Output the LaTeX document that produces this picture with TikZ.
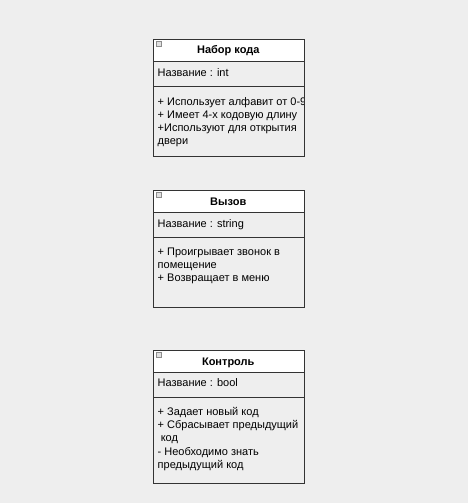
\documentclass[tikz,border=0pt]{standalone}
\usepackage{fontspec}
\setmainfont{Liberation Sans}
\definecolor{bgc}{HTML}{EEEEEE}
\definecolor{edgec}{HTML}{333333}
\begin{document}
\begin{tikzpicture}[x=1pt,y=-1pt,
  txt/.style={anchor=base west,inner sep=0pt,font=\fontsize{11}{13}\selectfont,text=black},
  hdrtxt/.style={anchor=base,inner sep=0pt,font=\bfseries\fontsize{11}{13}\selectfont,text=black},
  hdr/.style={draw=edgec,line width=0.9pt,fill=white,anchor=north west,minimum width=151.5pt,inner sep=0pt},
  comp/.style={draw=edgec,line width=0.9pt,fill=bgc,anchor=north west,minimum width=151.5pt,inner sep=0pt},
  icon/.style={draw=black!45,fill=black!12,line width=0.5pt,minimum size=5pt,inner sep=0pt,anchor=north west}]
\fill[bgc] (0,0) rectangle (468,503);
\useasboundingbox (0,0) rectangle (468,503);
% ---------- Box 1 ----------
\node[hdr,minimum height=22pt] (h1) at (152.5,39) {};
\node[comp,minimum height=25pt] (a1) at (152.5,61) {};
\node[comp,minimum height=70pt] (o1) at (152.5,86) {};
\node[icon] (i1) at (156,41.5) {};
\node[hdrtxt] (t1) at (228.25,54) {Набор кода};
\node[txt] (a1t) at (157.5,76.5) {Название : int};
\begin{scope}
\clip (153,86) rectangle (303.5,156);
\node[txt] (o1a) at (157.5,105) {+ Использует алфавит от 0-9};
\end{scope}
\node[txt] (o1b) at (157.5,118.3) {+ Имеет 4-х кодовую длину};
\node[txt] (o1c) at (157.5,131.6) {+Используют для открытия};
\node[txt] (o1d) at (157.5,144.9) {двери};
% ---------- Box 2 ----------
\node[hdr,minimum height=22pt] (h2) at (152.5,189.5) {};
\node[comp,minimum height=25pt] (a2) at (152.5,211.5) {};
\node[comp,minimum height=70pt] (o2) at (152.5,236.5) {};
\node[icon] (i2) at (156,192) {};
\node[hdrtxt] (t2) at (228.25,205.5) {Вызов};
\node[txt] (a2t) at (157.5,227) {Название : string};
\node[txt] (o2a) at (157.5,255.3) {+ Проигрывает звонок в};
\node[txt] (o2b) at (157.5,268.6) {помещение};
\node[txt] (o2c) at (157.5,281.9) {+ Возвращает в меню};
% ---------- Box 3 ----------
\node[hdr,minimum height=22pt] (h3) at (152.5,349.5) {};
\node[comp,minimum height=25pt] (a3) at (152.5,371.5) {};
\node[comp,minimum height=86pt] (o3) at (152.5,396.5) {};
\node[icon] (i3) at (156,352) {};
\node[hdrtxt] (t3) at (228.25,365) {Контроль};
\node[txt] (a3t) at (157.5,386.7) {Название : bool};
\node[txt] (o3a) at (157.5,415.3) {+ Задает новый код};
\node[txt] (o3b) at (157.5,428.6) {+ Сбрасывает предыдущий};
\node[txt] (o3c) at (157.5,441.9) {\ код};
\node[txt] (o3d) at (157.5,455.2) {- Необходимо знать};
\node[txt] (o3e) at (157.5,468.5) {предыдущий код};
\end{tikzpicture}
\end{document}
